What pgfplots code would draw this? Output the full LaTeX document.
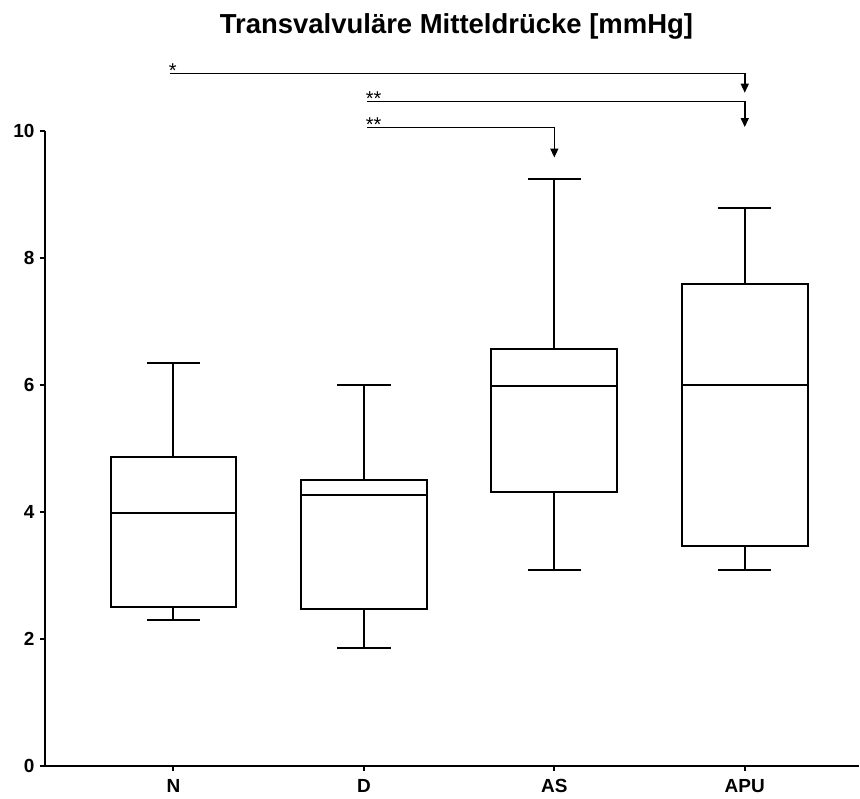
\documentclass[border=0pt]{standalone}
\usepackage{fontspec}
\setmainfont{Liberation Sans}
\usepackage{pgfplots}
\pgfplotsset{compat=1.18}
\usepgfplotslibrary{statistics}
\usetikzlibrary{arrows.meta}
\begin{document}
\begin{tikzpicture}
\begin{axis}[
  name=ax,
  scale only axis,
  width=815pt, height=636pt,
  xmin=-0.675, xmax=3.6,
  ymin=0, ymax=10,
  axis x line*=bottom,
  axis y line*=left,
  axis line style={line width=2pt},
  xtick={0,1,2,3},
  xticklabels={N,D,AS,APU},
  ytick={0,2,4,6,8,10},
  tick align=outside,
  major tick length=5pt,
  tick style={line width=2pt, black},
  tick label style={font=\fontsize{19}{19}\selectfont\bfseries},
  /pgf/number format/assume math mode=true,
  xticklabel style={anchor=north, text height=14pt, text depth=0pt, yshift=-4pt},
  yticklabel style={xshift=-2pt},
  clip=false,
  boxplot/draw direction=y,
  boxplot/box extend=0.66,
  boxplot/whisker extend=0.28,
  boxplot/every box/.style={line width=2pt, fill=white},
  boxplot/every whisker/.style={line width=2pt},
  boxplot/every median/.style={line width=2pt},
]
% N
\addplot[black, line width=2pt, boxplot prepared={
  draw position=0, lower whisker=2.30, lower quartile=2.50,
  median=3.99, upper quartile=4.86, upper whisker=6.34}] coordinates {};
% D
\addplot[black, line width=2pt, boxplot prepared={
  draw position=1, lower whisker=1.86, lower quartile=2.47,
  median=4.26, upper quartile=4.51, upper whisker=6.00}] coordinates {};
% AS
\addplot[black, line width=2pt, boxplot prepared={
  draw position=2, lower whisker=3.08, lower quartile=4.32,
  median=5.98, upper quartile=6.57, upper whisker=9.24}] coordinates {};
% APU
\addplot[black, line width=2pt, boxplot prepared={
  draw position=3, lower whisker=3.08, lower quartile=3.46,
  median=6.00, upper quartile=7.59, upper whisker=8.79}] coordinates {};

% significance brackets
\draw[line width=1.5pt, -{Triangle[width=8pt,length=9pt]}]
  (axis cs:-0.02,10.90) -- (axis cs:3,10.90) -- (axis cs:3,10.60);
\draw[line width=1.5pt, -{Triangle[width=8pt,length=9pt]}]
  (axis cs:1.015,10.46) -- (axis cs:3,10.46) -- (axis cs:3,10.06);
\draw[line width=1.5pt, -{Triangle[width=8pt,length=9pt]}]
  (axis cs:1.015,10.05) -- (axis cs:2,10.05) -- (axis cs:2,9.58);
\node[anchor=south west, inner sep=0pt, xshift=-1pt, yshift=-4pt, font=\fontsize{20}{20}\selectfont] at (axis cs:-0.02,10.90) {*};
\node[anchor=south west, inner sep=0pt, xshift=-1pt, yshift=-4pt, font=\fontsize{20}{20}\selectfont] at (axis cs:1.015,10.46) {**};
\node[anchor=south west, inner sep=0pt, xshift=-1pt, yshift=-4pt, font=\fontsize{20}{20}\selectfont] at (axis cs:1.015,10.05) {**};
\end{axis}
\node[font=\fontsize{27.5}{27.5}\selectfont\bfseries] at ([shift={(412pt,740pt)}]ax.south west) {Transvalvuläre Mitteldrücke [mmHg]};
\path ([shift={(-45pt,-32pt)}]ax.south west) rectangle ([shift={(815pt,767pt)}]ax.south west);
\end{tikzpicture}
\end{document}
